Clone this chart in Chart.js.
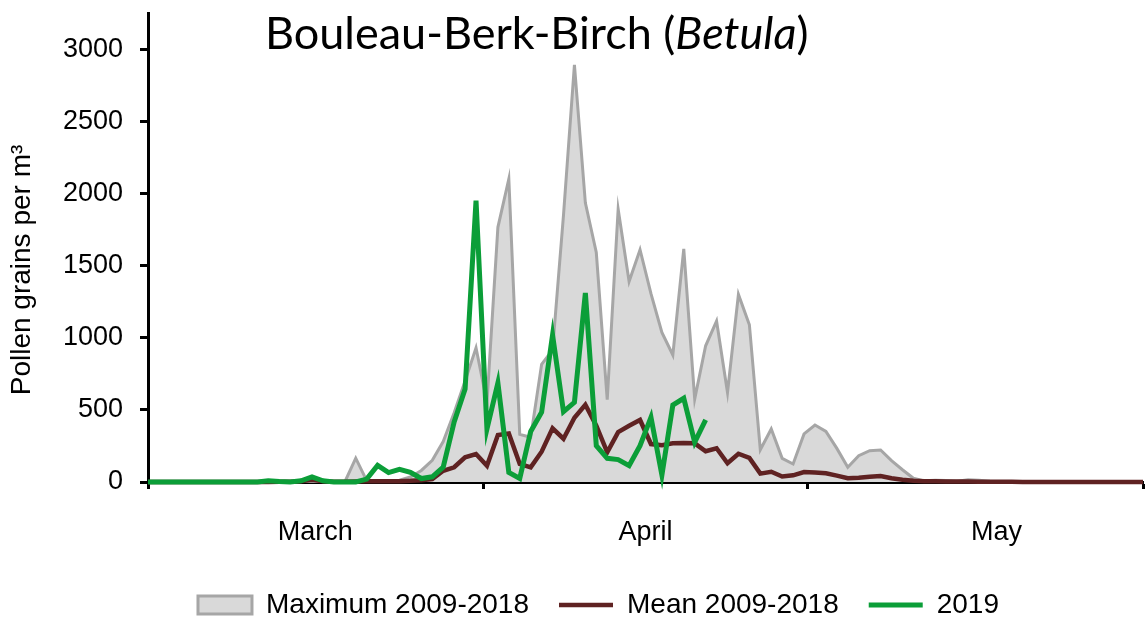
<!DOCTYPE html>
<html lang="en">
<head>
<meta charset="UTF-8">
<title>Bouleau-Berk-Birch (Betula)</title>
<script src="https://cdn.jsdelivr.net/npm/chart.js"></script>
<style>
  html, body { margin: 0; padding: 0; background: #fff; }
</style>
</head>
<body>
<canvas id="pollenChart" width="1146" height="619"></canvas>
<script>
// daily values, 1 March .. 31 May
const monthNames = ['Mar', 'Apr', 'May'];
const monthLengths = [31, 30, 31];

const maxValues = [
  0, 0, 0, 0, 0, 0, 0, 0, 0, 0,
  0, 0, 0, 0, 3, 5, 3, 0, 0, 165,
  10, 5, 5, 12, 35, 80, 150, 280, 480, 700,
  930, 550, 1765, 2100, 330, 310, 815, 915, 1850, 2890,
  1935, 1590, 570, 1890, 1390, 1610, 1305, 1037, 880, 1615,
  575, 944, 1115, 620, 1300, 1090, 223, 367, 164, 125,
  333, 395, 351, 233, 102, 182, 217, 222, 148, 85,
  26, 8, 12, 10, 5, 15, 12, 5, 0, 0,
  0, 0, 0, 0, 0, 0, 0, 0, 0, 0,
  0, 0
];
const meanValues = [
  0, 0, 0, 0, 0, 0, 0, 0, 0, 0,
  0, 0, 2, 2, 5, 15, 5, 2, 2, 3,
  5, 5, 6, 6, 8, 12, 21, 78, 102, 171,
  194, 113, 326, 336, 125, 102, 210, 372, 300, 445,
  535, 390, 206, 346, 390, 430, 263, 255, 268, 270,
  268, 213, 234, 130, 196, 167, 58, 71, 38, 46,
  69, 65, 60, 44, 26, 30, 37, 42, 26, 16,
  9, 6, 5, 4, 3, 3, 2, 2, 1, 1,
  0, 0, 0, 0, 0, 0, 0, 0, 0, 0,
  0, 0
];
const values2019 = [
  0, 0, 0, 0, 0, 0, 0, 0, 0, 0,
  0, 8, 3, 0, 8, 35, 8, 0, 0, 0,
  20, 115, 65, 88, 67, 24, 36, 103, 416, 644,
  1950, 367, 686, 67, 25, 350, 483, 1018, 487, 552,
  1310, 252, 164, 155, 113, 252, 448, 48, 533, 580,
  275, 430
];
const yTicks = [0, 500, 1000, 1500, 2000, 2500, 3000];

// month boundaries get a tick mark, month names sit between them
const monthEdges = [0, 30.67, 60.33, 91];
const monthLabels = { 15.3: 'March', 45.5: 'April', 77.6: 'May' };

const dayLabels = [];
monthNames.forEach((m, i) => {
  for (let d = 1; d <= monthLengths[i]; d++) dayLabels.push(d + ' ' + m);
});

// title with italic genus, and the y title which sits a bit low in the original
const textPlugin = {
  id: 'extraText',
  afterLayout(chart) {
    // nudge the legend row to the right, like the original
    chart.legend.left += 54;
  },
  afterDraw(chart) {
    const c = chart.ctx;
    const parts = [['Bouleau-Berk-Birch (', 'normal'], ['Betula', 'italic'], [')', 'normal']];
    let x = 265;
    c.save();
    c.fillStyle = '#000';
    c.textBaseline = 'alphabetic';
    for (const [text, style] of parts) {
      c.font = style + ' 45px Lato';
      c.fillText(text, x, 49);
      x += c.measureText(text).width;
    }
    c.translate(22, 270);
    c.rotate(-Math.PI / 2);
    c.font = "28px 'Liberation Sans', Arial, sans-serif";
    c.textAlign = 'center';
    c.textBaseline = 'middle';
    c.fillText('Pollen grains per m³', 0, 0);
    c.restore();
  }
};

Chart.defaults.font.family = "'Liberation Sans', Arial, sans-serif";
Chart.defaults.color = '#000';

new Chart(document.getElementById('pollenChart'), {
  type: 'line',
  data: {
    labels: dayLabels,
    datasets: [
      {
        label: 'Maximum 2009-2018',
        data: maxValues,
        fill: 'origin',
        backgroundColor: '#d9d9d9',
        borderColor: '#a6a6a6',
        borderWidth: 3,
        pointRadius: 0,
        pointStyle: 'rect',
        order: 3
      },
      {
        label: 'Mean 2009-2018',
        data: meanValues,
        borderColor: '#5f2222',
        backgroundColor: '#5f2222',
        borderWidth: 4.5,
        pointRadius: 0,
        pointStyle: 'line',
        order: 2
      },
      {
        label: '2019',
        data: values2019,
        borderColor: '#0b9e38',
        backgroundColor: '#0b9e38',
        borderWidth: 5,
        pointRadius: 0,
        pointStyle: 'line',
        order: 1
      }
    ]
  },
  options: {
    responsive: false,
    animation: false,
    devicePixelRatio: 1,
    clip: false,
    layout: { padding: { top: 13, right: 3, left: 0, bottom: -10 } },
    plugins: {
      tooltip: { enabled: false },
      legend: {
        position: 'bottom',
        labels: {
          usePointStyle: true,
          pointStyleWidth: 54,
          boxHeight: 18,
          padding: 30,
          font: { size: 28 },
          sort: (a, b) => a.datasetIndex - b.datasetIndex
        }
      }
    },
    scales: {
      x: {
        type: 'category',
        offset: false,
        border: { display: true, color: '#000', width: 3 },
        grid: {
          drawOnChartArea: false,
          drawTicks: true,
          tickLength: 7,
          tickWidth: 3,
          tickColor: ctx => monthEdges.includes(ctx.tick.value) ? '#000' : 'rgba(0,0,0,0)'
        },
        afterBuildTicks: axis => {
          const vals = monthEdges.concat(Object.keys(monthLabels).map(Number)).sort((a, b) => a - b);
          axis.ticks = vals.map(v => ({ value: v }));
        },
        afterFit: axis => {
          axis.height = 79;
          axis.paddingLeft = 0;
          axis.paddingRight = 0;
        },
        ticks: {
          autoSkip: false,
          maxRotation: 0,
          padding: 27,
          font: { size: 27 },
          callback: v => monthLabels[v] || ''
        }
      },
      y: {
        min: 0,
        max: 3250,
        border: { display: true, color: '#000', width: 3 },
        grid: { drawOnChartArea: false, tickLength: 8, tickWidth: 3, tickColor: '#000' },
        afterBuildTicks: axis => { axis.ticks = yTicks.map(v => ({ value: v })); },
        afterFit: axis => {
          axis.width = 148;
          axis.paddingTop = 0;
          axis.paddingBottom = 0;
        },
        ticks: { padding: 17, font: { size: 27 }, callback: v => String(v) }
      }
    }
  },
  plugins: [textPlugin]
});
</script>
</body>
</html>
